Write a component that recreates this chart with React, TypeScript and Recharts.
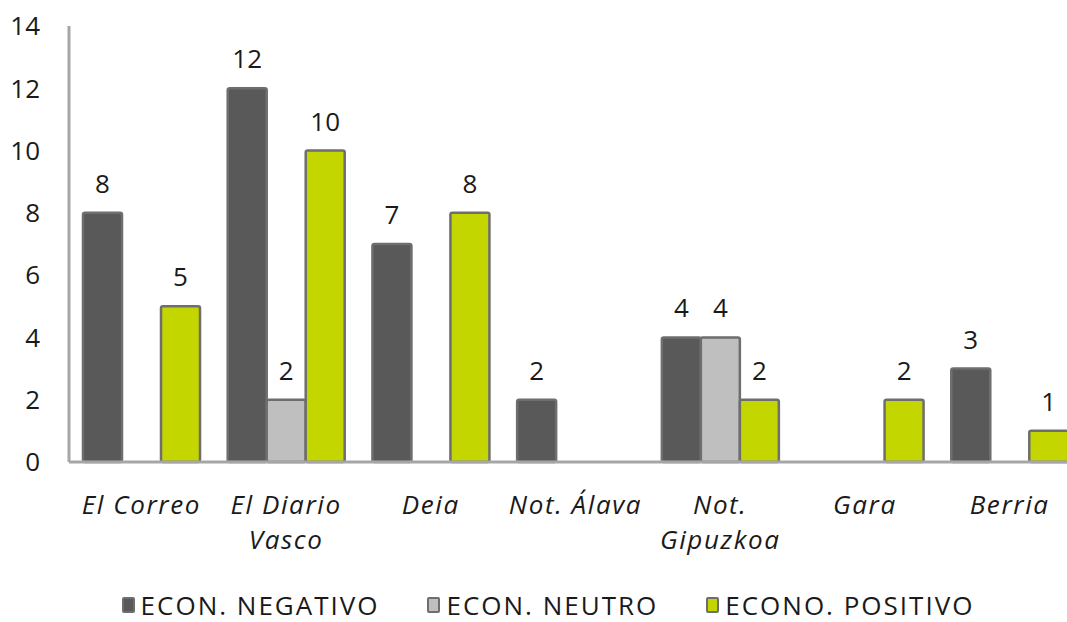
import { BarChart, Bar, XAxis, YAxis, Legend, LabelList } from "recharts";

const categories = ["El Correo", "El Diario Vasco", "Deia", "Not. Álava", "Not. Gipuzkoa", "Gara", "Berria"];
const negativo = [8, 12, 7, 2, 4, null, 3];
const neutro = [null, 2, null, null, 4, null, null];
const positivo = [5, 10, 8, null, 2, 2, 1];
const yTicks = [0, 2, 4, 6, 8, 10, 12, 14];

const series = [
  { key: "negativo", name: "ECON. NEGATIVO", fill: "#595959" },
  { key: "neutro", name: "ECON. NEUTRO", fill: "#bfbfbf" },
  { key: "positivo", name: "ECONO. POSITIVO", fill: "#c4d600" },
];

const data = categories.map((name, i) => ({
  name,
  negativo: negativo[i],
  neutro: neutro[i],
  positivo: positivo[i],
}));

const FONT = "'Open Sans', sans-serif";
const TEXT = "#1a1a1a";
const FS = 26;

function CategoryTick({ x, y, payload }: any) {
  const words: string[] = payload.value.split(" ");
  // wrap long names onto two lines like the original
  const lines: string[] = [];
  let cur = "";
  for (const w of words) {
    const next = cur ? cur + " " + w : w;
    if (next.length > 10 && cur) {
      lines.push(cur);
      cur = w;
    } else {
      cur = next;
    }
  }
  if (cur) lines.push(cur);
  return (
    <text x={x} y={y} textAnchor="middle" fill={TEXT} fontSize={FS} fontStyle="italic" fontFamily={FONT} letterSpacing={1.6}>
      {lines.map((l, i) => (
        <tspan key={i} x={x} dy={i === 0 ? 44 : 35}>
          {l}
        </tspan>
      ))}
    </text>
  );
}

function LegendContent() {
  return (
    <div
      style={{
        display: "flex",
        justifyContent: "center",
        gap: 48,
        fontFamily: FONT,
        fontSize: FS,
        color: TEXT,
        lineHeight: "30px",
        paddingTop: 8,
        paddingLeft: 14,
        letterSpacing: 2,
      }}
    >
      {series.map((s) => (
        <div key={s.key} style={{ display: "flex", alignItems: "center" }}>
          <span
            style={{
              display: "inline-block",
              width: 9,
              height: 12,
              background: s.fill,
              border: "2px solid #6e6e6e",
              borderRadius: 2,
              marginRight: 6,
            }}
          />
          <span>{s.name}</span>
        </div>
      ))}
    </div>
  );
}

export default function App() {
  return (
    <div style={{ position: "absolute", left: 0, top: 0, width: 1067, height: 622, overflow: "hidden", background: "#fff" }}>
      <BarChart
        width={1082}
        height={622}
        data={data}
        margin={{ top: 26, right: 0, bottom: 0, left: 0 }}
        barGap={0}
        barCategoryGap={14}
      >
        <YAxis
          width={69}
          domain={[0, 14]}
          ticks={yTicks}
          interval={0}
          axisLine={{ stroke: "#a6a6a6", strokeWidth: 3 }}
          tickLine={false}
          tickMargin={23}
          tick={{ fill: TEXT, fontSize: FS, fontFamily: FONT }}
        />
        <XAxis
          dataKey="name"
          height={120}
          interval={0}
          axisLine={{ stroke: "#a6a6a6", strokeWidth: 3 }}
          tickLine={false}
          tick={<CategoryTick />}
        />
        <Legend verticalAlign="bottom" content={<LegendContent />} wrapperStyle={{ height: 40 }} />
        {series.map((s) => (
          <Bar
            key={s.key}
            dataKey={s.key}
            name={s.name}
            fill={s.fill}
            stroke="#6e6e6e"
            strokeWidth={2.5}
            radius={2}
            isAnimationActive={false}
          >
            <LabelList dataKey={s.key} position="top" offset={20} fill={TEXT} fontSize={FS} fontFamily={FONT} />
          </Bar>
        ))}
      </BarChart>
    </div>
  );
}
